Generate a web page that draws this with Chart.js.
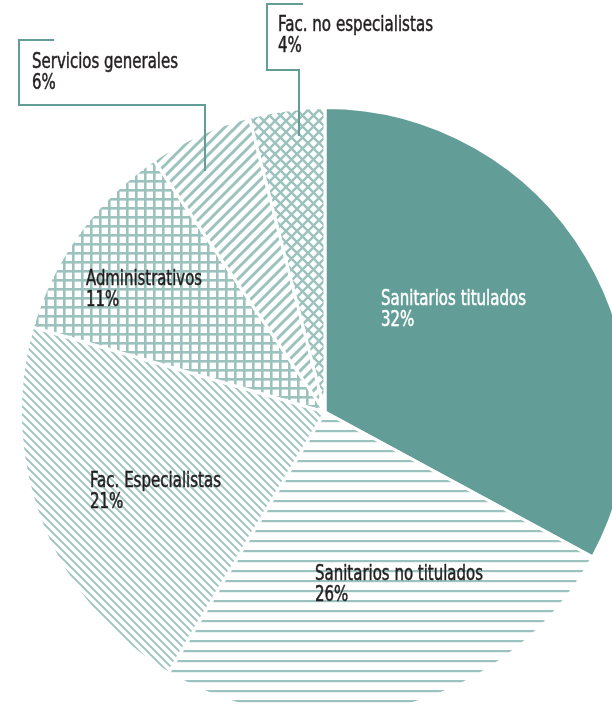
<!DOCTYPE html>
<html>
<head>
<meta charset="utf-8">
<script src="https://cdn.jsdelivr.net/npm/chart.js@4/dist/chart.umd.min.js"></script>
<style>
  html, body { margin: 0; padding: 0; background: #ffffff; overflow: hidden; width: 612px; height: 707px; }
  #wrap { position: absolute; left: 0; top: 0; width: 650px; height: 720px; }
</style>
</head>
<body>
<div id="wrap"><canvas id="c" width="650" height="720"></canvas></div>
<script>
// ---- data ----
const categories = ['Sanitarios titulados', 'Sanitarios no titulados', 'Fac. Especialistas', 'Administrativos', 'Servicios generales', 'Fac. no especialistas'];
const values = [32.9, 25.7, 20.9, 11.0, 5.5, 4.0];
const pctLabels = ['32%', '26%', '21%', '11%', '6%', '4%'];

// ---- styling ----
const TEAL = '#629d97';
const LIGHT = '#9cc2be';
const TEXT = '#231f20';

function tile(size, draw) {
  const c = document.createElement('canvas');
  c.width = size; c.height = size;
  const g = c.getContext('2d');
  g.fillStyle = '#ffffff';
  g.fillRect(0, 0, size, size);
  g.strokeStyle = LIGHT; g.fillStyle = LIGHT;
  draw(g, size);
  return document.getElementById('c').getContext('2d').createPattern(c, 'repeat');
}
function diag(g, s, w, dir) {
  g.lineWidth = w; g.lineCap = 'square';
  g.beginPath();
  for (const x0 of [-s, 0, s]) {
    if (dir === '/') { g.moveTo(x0, s); g.lineTo(x0 + s, 0); }
    else { g.moveTo(x0, 0); g.lineTo(x0 + s, s); }
  }
  g.stroke();
}
const fills = [
  TEAL,
  tile(10, (g, s) => { g.fillRect(0, 0, s, 2.2); }),
  tile(8, (g, s) => diag(g, s, 1.9, '\\')),
  tile(9, (g, s) => { g.fillRect(0, 0, s, 2.6); g.fillRect(0, 0, 2.6, s); }),
  tile(11, (g, s) => diag(g, s, 3.0, '/')),
  tile(11, (g, s) => { diag(g, s, 2.4, '/'); diag(g, s, 2.4, '\\'); })
];

// label placement: offset of text block (left, first baseline) from pie centre, target width of first line
const labelOffsets = [[56, -107], [-10, 168], [-235, 75], [-239, -127], [-293, -344], [-47, -381]];
const labelWidths = [145, 168, 131, 116, 146, 155];
const labelColors = ['#ffffff', TEXT, TEXT, TEXT, TEXT, TEXT];
// callout leader lines (offsets from pie centre)
const leaders = [
  [[-271, -372], [-306, -372], [-306, -307], [-120, -307], [-120, -241]],
  [[-22, -408], [-58, -408], [-58, -342], [-26, -342], [-26, -276]]
];

const overlay = {
  id: 'overlay',
  afterDatasetsDraw(chart) {
    const ctx = chart.ctx;
    const arc = chart.getDatasetMeta(0).data[0];
    const cx = arc.x, cy = arc.y;
    ctx.save();
    ctx.strokeStyle = TEAL; ctx.lineWidth = 2; ctx.lineJoin = 'miter'; ctx.lineCap = 'butt';
    for (const pts of leaders) {
      ctx.beginPath();
      pts.forEach((p, i) => i ? ctx.lineTo(cx + p[0], cy + p[1]) : ctx.moveTo(cx + p[0], cy + p[1]));
      ctx.stroke();
    }
    ctx.font = '22px "Liberation Sans Narrow", "DejaVu Sans Condensed", "Roboto", sans-serif';
    ctx.textBaseline = 'alphabetic';
    ctx.textAlign = 'left';
    categories.forEach((name, i) => {
      const x = cx + labelOffsets[i][0], y = cy + labelOffsets[i][1];
      const k = labelWidths[i] / ctx.measureText(name).width;
      ctx.fillStyle = labelColors[i];
      ctx.strokeStyle = labelColors[i];
      ctx.lineWidth = 0.5;
      ctx.save();
      ctx.translate(x, y);
      ctx.scale(k, 1);
      ctx.fillText(name, 0, 0);
      ctx.strokeText(name, 0, 0);
      ctx.fillText(pctLabels[i], 0, 21);
      ctx.strokeText(pctLabels[i], 0, 21);
      ctx.restore();
    });
    ctx.restore();
  }
};

new Chart(document.getElementById('c'), {
  type: 'pie',
  data: {
    labels: categories,
    datasets: [{
      data: values,
      backgroundColor: fills,
      borderColor: '#ffffff',
      borderWidth: 3,
      hoverOffset: 0
    }]
  },
  options: {
    responsive: false,
    animation: false,
    devicePixelRatio: 1,
    layout: { padding: { left: 19, right: 19, top: 106, bottom: 2 } },
    plugins: { legend: { display: false }, tooltip: { enabled: false } }
  },
  plugins: [overlay]
});
</script>
</body>
</html>
